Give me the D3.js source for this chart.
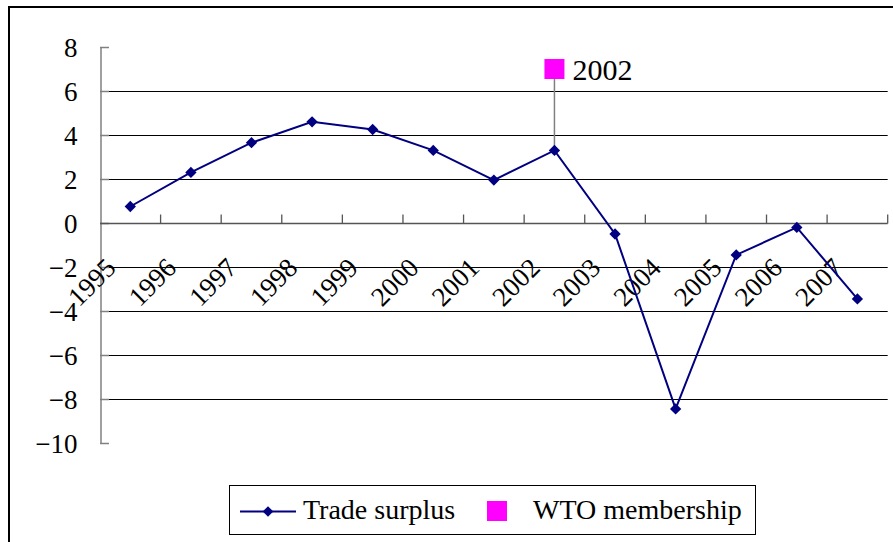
<!DOCTYPE html>
<html>
<head>
<meta charset="utf-8">
<script src="https://cdn.jsdelivr.net/npm/d3@7/dist/d3.min.js"></script>
<style>
  html, body { margin: 0; padding: 0; background: #fff; }
  svg { display: block; }
</style>
</head>
<body>
<svg id="chart" width="893" height="542"></svg>
<script>
// ---- Data ----
const years = ["1995","1996","1997","1998","1999","2000","2001","2002","2003","2004","2005","2006","2007"];
const tradeSurplus = [0.75, 2.3, 3.65, 4.6, 4.25, 3.3, 1.95, 3.3, -0.5, -8.45, -1.45, -0.2, -3.45];
const wtoYears = ["2002"];
const wtoValues = [7];
const wtoLabels = ["2002"];
const yTicks = [8, 6, 4, 2, 0, -2, -4, -6, -8, -10];
const seriesNames = ["Trade surplus", "WTO membership"];

// ---- Layout ----
const FONT = '"Liberation Serif"';
const svg = d3.select("#chart");
const plotLeft = 100, plotRight = 887.7, plotTop = 47, plotBottom = 443;
const navy = "#000080", magenta = "#FF00FF";

const x = d3.scaleBand().domain(years).range([plotLeft, plotRight]).paddingInner(0).paddingOuter(0);
const y = d3.scaleLinear().domain([-10, 8]).range([plotBottom, plotTop]);
const cx = d => x(d) + x.bandwidth() / 2;

// outer frame
svg.append("rect").attr("x", 9).attr("y", 7).attr("width", 900).attr("height", 560)
  .attr("fill", "none").attr("stroke", "#000").attr("stroke-width", 2);

// gridlines
svg.append("g").selectAll("line").data(yTicks.filter(t => t !== 0 && t !== 8 && t !== -10)).join("line")
  .attr("x1", plotLeft).attr("x2", plotRight)
  .attr("y1", d => Math.round(y(d)) + 0.5).attr("y2", d => Math.round(y(d)) + 0.5)
  .attr("stroke", "#000").attr("stroke-width", 1);

// y axis
const yAxis = d3.axisLeft(y).tickValues(yTicks).tickSize(0).tickPadding(23)
  .tickFormat(d => d < 0 ? "\u2212" + Math.abs(d) : String(d));
const gy = svg.append("g").attr("transform", `translate(${plotLeft + 0.5},0)`).call(yAxis);
gy.select(".domain").attr("stroke", "#808080").attr("stroke-width", 1.5);
gy.selectAll("text").style("font-family", FONT).style("font-size", "27px")
  .attr("fill", "#000").attr("dy", "0.35em");
// inward ticks
svg.append("g").selectAll("line").data(yTicks).join("line")
  .attr("x1", plotLeft).attr("x2", plotLeft + 9)
  .attr("y1", d => Math.round(y(d)) + 0.5).attr("y2", d => Math.round(y(d)) + 0.5)
  .attr("stroke", "#808080").attr("stroke-width", 1.5);

// x axis at zero
const y0 = Math.round(y(0)) + 0.5;
svg.append("line").attr("x1", plotLeft).attr("x2", plotRight).attr("y1", y0).attr("y2", y0)
  .attr("stroke", "#555").attr("stroke-width", 1.5);
const boundaries = years.map(d => x(d)).concat([plotRight]).slice(1);
svg.append("g").selectAll("line").data(boundaries).join("line")
  .attr("x1", d => d).attr("x2", d => d).attr("y1", y0).attr("y2", y0 - 9)
  .attr("stroke", "#555").attr("stroke-width", 1.3);

// x labels rotated
svg.append("g").selectAll("text").data(years).join("text")
  .attr("transform", d => `translate(${cx(d) - 13},${y0 + 46}) rotate(-45)`)
  .attr("text-anchor", "end").style("font-family", FONT).style("font-size", "27px")
  .attr("fill", "#000").text(d => d);

// WTO drop line + marker + label
wtoYears.forEach((yr, i) => {
  const idx = years.indexOf(yr);
  svg.append("line").attr("x1", cx(yr)).attr("x2", cx(yr))
    .attr("y1", y(tradeSurplus[idx])).attr("y2", y(wtoValues[i]))
    .attr("stroke", "#808080").attr("stroke-width", 1.5);
  svg.append("rect").attr("x", cx(yr) - 10).attr("y", y(wtoValues[i]) - 10)
    .attr("width", 20).attr("height", 20).attr("fill", magenta);
  svg.append("text").attr("x", cx(yr) + 18).attr("y", y(wtoValues[i]) + 11)
    .style("font-family", FONT).style("font-size", "30px").text(wtoLabels[i]);
});

// trade surplus line
const line = d3.line().x((d, i) => cx(years[i])).y(d => y(d));
svg.append("path").datum(tradeSurplus).attr("d", line)
  .attr("fill", "none").attr("stroke", navy).attr("stroke-width", 2);
svg.append("g").selectAll("path").data(tradeSurplus).join("path")
  .attr("transform", (d, i) => `translate(${cx(years[i])},${y(d)}) rotate(45)`)
  .attr("d", d3.symbol().type(d3.symbolSquare).size(64)).attr("fill", navy);

// legend
const lg = svg.append("g");
lg.append("rect").attr("x", 229.5).attr("y", 485.5).attr("width", 526).attr("height", 49)
  .attr("fill", "#fff").attr("stroke", "#000").attr("stroke-width", 1);
const ly = 511.5;
lg.append("line").attr("x1", 240).attr("x2", 296).attr("y1", ly).attr("y2", ly)
  .attr("stroke", navy).attr("stroke-width", 2);
lg.append("path").attr("transform", `translate(268,${ly}) rotate(45)`)
  .attr("d", d3.symbol().type(d3.symbolSquare).size(56)).attr("fill", navy);
lg.append("text").attr("x", 303).attr("y", 519).style("font-family", FONT).style("font-size", "28px")
  .text(seriesNames[0]);
lg.append("rect").attr("x", 487).attr("y", 501).attr("width", 20).attr("height", 20).attr("fill", magenta);
lg.append("text").attr("x", 533).attr("y", 519).style("font-family", FONT).style("font-size", "28px")
  .text(seriesNames[1]);
</script>
</body>
</html>
